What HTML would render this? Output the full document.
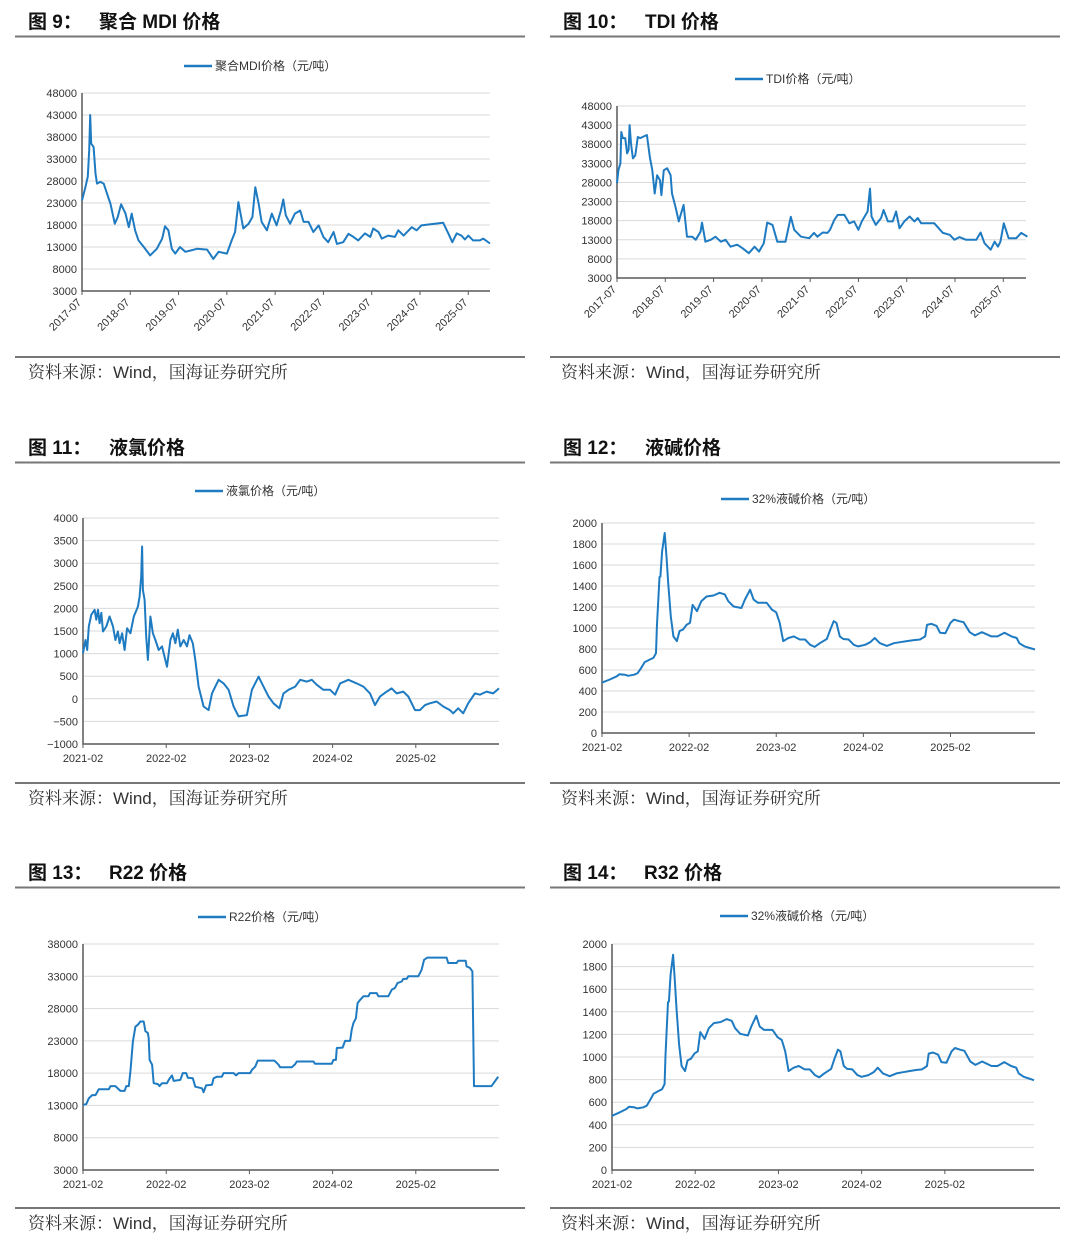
<!DOCTYPE html>
<html><head><meta charset="utf-8">
<style>
html,body{margin:0;padding:0;background:#fff;}
svg{display:block;font-family:"Liberation Sans","Noto Sans CJK SC",sans-serif;}
.ttl{font-size:19px;font-weight:bold;fill:#111;}
.src{font-size:17px;fill:#333;font-family:"Liberation Sans","Noto Serif CJK SC",serif;}
.tick{font-size:11px;fill:#333;}
.leg{font-size:12px;fill:#333;}
</style></head>
<body>
<svg id="page" width="1080" height="1252" viewBox="0 0 1080 1252" xmlns="http://www.w3.org/2000/svg">
<g>
<text class="ttl" x="28" y="28">图 9：</text>
<text class="ttl" x="99" y="28">聚合 MDI 价格</text>
<line x1="15" y1="36.5" x2="525" y2="36.5" stroke="#777" stroke-width="2"/>
<line x1="15" y1="357" x2="525" y2="357" stroke="#777" stroke-width="2"/>
<text class="src" x="28" y="378">资料来源：Wind，国海证券研究所</text>
</g>
<g>
<text class="ttl" x="563" y="28">图 10：</text>
<text class="ttl" x="645" y="28">TDI 价格</text>
<line x1="550" y1="36.5" x2="1060" y2="36.5" stroke="#777" stroke-width="2"/>
<line x1="550" y1="357" x2="1060" y2="357" stroke="#777" stroke-width="2"/>
<text class="src" x="561" y="378">资料来源：Wind，国海证券研究所</text>
</g>
<g>
<text class="ttl" x="28" y="454">图 11：</text>
<text class="ttl" x="109" y="454">液氯价格</text>
<line x1="15" y1="462.5" x2="525" y2="462.5" stroke="#777" stroke-width="2"/>
<line x1="15" y1="783" x2="525" y2="783" stroke="#777" stroke-width="2"/>
<text class="src" x="28" y="804">资料来源：Wind，国海证券研究所</text>
</g>
<g>
<text class="ttl" x="563" y="454">图 12：</text>
<text class="ttl" x="645" y="454">液碱价格</text>
<line x1="550" y1="462.5" x2="1060" y2="462.5" stroke="#777" stroke-width="2"/>
<line x1="550" y1="783" x2="1060" y2="783" stroke="#777" stroke-width="2"/>
<text class="src" x="561" y="804">资料来源：Wind，国海证券研究所</text>
</g>
<g>
<text class="ttl" x="28" y="879">图 13：</text>
<text class="ttl" x="109" y="879">R22 价格</text>
<line x1="15" y1="887.5" x2="525" y2="887.5" stroke="#777" stroke-width="2"/>
<line x1="15" y1="1208" x2="525" y2="1208" stroke="#777" stroke-width="2"/>
<text class="src" x="28" y="1229">资料来源：Wind，国海证券研究所</text>
</g>
<g>
<text class="ttl" x="563" y="879">图 14：</text>
<text class="ttl" x="644" y="879">R32 价格</text>
<line x1="550" y1="887.5" x2="1060" y2="887.5" stroke="#777" stroke-width="2"/>
<line x1="550" y1="1208" x2="1060" y2="1208" stroke="#777" stroke-width="2"/>
<text class="src" x="561" y="1229">资料来源：Wind，国海证券研究所</text>
</g>
</svg>
<script>
// ---- Data (time = years since first x-axis label) ----
const mdiT=[0,.07,.12,.15,.17,.19,.24,.28,.31,.38,.45,.52,.59,.68,.74,.81,.90,.97,1.03,1.10,1.17,1.28,1.41,1.55,1.66,1.72,1.79,1.86,1.93,2.03,2.14,2.28,2.38,2.59,2.72,2.83,3.00,3.10,3.17,3.24,3.34,3.45,3.53,3.59,3.66,3.72,3.83,3.93,4.03,4.12,4.17,4.22,4.31,4.41,4.52,4.59,4.69,4.79,4.90,5.00,5.10,5.21,5.28,5.41,5.52,5.62,5.72,5.86,5.97,6.03,6.14,6.21,6.34,6.48,6.55,6.66,6.83,6.93,7.03,7.24,7.48,7.59,7.67,7.76,7.86,7.93,8.00,8.10,8.24,8.31,8.45];
const mdiV=[23600,26600,29000,35000,43000,36500,35700,29700,27400,27800,27400,25100,22800,18300,19800,22700,20600,17500,20600,16800,14500,13000,11100,12600,14900,17700,16800,12600,11500,13000,11900,12300,12600,12400,10300,11900,11500,14500,16400,23200,17200,18300,19800,26600,22800,18700,16800,20600,17900,21300,23800,20200,18300,20600,21300,18700,18700,16400,17900,15300,14100,16400,13700,14100,16000,15300,14500,16100,15300,17200,16400,14900,15600,15300,16800,15600,17500,16800,17900,18200,18500,16000,14100,16100,15600,14700,15600,14500,14500,14900,13800];
const tdiT=[0,.03,.07,.09,.12,.17,.21,.24,.26,.29,.33,.38,.43,.48,.62,.68,.73,.78,.83,.89,.92,.97,1.04,1.11,1.14,1.21,1.28,1.33,1.38,1.45,1.56,1.63,1.73,1.76,1.83,1.94,2.04,2.15,2.25,2.35,2.49,2.60,2.73,2.85,2.94,3.04,3.11,3.22,3.32,3.49,3.60,3.67,3.81,3.98,4.08,4.15,4.26,4.36,4.41,4.50,4.57,4.71,4.81,4.91,5.00,5.07,5.19,5.24,5.27,5.36,5.47,5.52,5.61,5.71,5.78,5.85,5.95,6.06,6.16,6.23,6.30,6.57,6.75,6.89,6.99,7.09,7.23,7.44,7.53,7.61,7.74,7.82,7.89,7.94,8.01,8.11,8.27,8.37,8.50];
const tdiV=[27800,31200,33000,41200,39600,39600,35600,36500,43000,38200,34300,35100,39900,39600,40400,34700,31200,25100,29900,28600,24700,31200,31700,29900,25100,21700,17800,20000,22100,13800,13800,13000,15100,17500,12500,13000,13800,12500,13000,11200,11700,10800,9500,11200,9900,12100,17500,16900,12500,12500,19000,15600,13800,13400,14800,13800,14900,14800,15600,18200,19500,19500,17300,17800,15600,17800,20400,26400,19100,16900,18700,20800,17800,17800,20400,16000,17800,19100,17800,18700,17300,17300,14800,14300,13000,13700,13000,13000,14900,12100,10400,12500,11200,12500,17300,13400,13400,14800,13800];
const clT=[0,.03,.05,.07,.10,.14,.16,.18,.20,.22,.24,.28,.32,.36,.39,.42,.44,.47,.50,.53,.57,.61,.66,.68,.70,.71,.72,.74,.76,.78,.81,.84,.87,.91,.95,1.01,1.05,1.08,1.11,1.14,1.17,1.21,1.25,1.28,1.32,1.35,1.39,1.45,1.51,1.55,1.63,1.69,1.75,1.81,1.87,1.97,2.03,2.11,2.17,2.23,2.29,2.36,2.41,2.47,2.55,2.61,2.69,2.75,2.81,2.89,2.97,3.03,3.09,3.19,3.29,3.37,3.45,3.51,3.57,3.65,3.71,3.77,3.85,3.91,3.99,4.05,4.11,4.17,4.25,4.33,4.41,4.45,4.51,4.57,4.63,4.71,4.77,4.85,4.93,5.00];
const clV=[1010,1300,1080,1600,1860,1970,1750,1970,1670,1900,1490,1600,1820,1600,1300,1490,1230,1450,1080,1560,1450,1820,2040,2260,2710,3370,2410,2190,1380,860,1820,1450,1300,1080,1160,710,1300,1450,1230,1530,1160,1300,1160,1410,1230,860,270,-170,-250,120,420,340,200,-170,-390,-360,200,490,270,50,-100,-210,120,200,270,420,380,420,310,200,200,90,340,420,340,270,120,-140,50,160,230,120,160,50,-250,-250,-140,-100,-60,-170,-250,-320,-210,-320,-100,120,90,160,120,230];
const naohT=[0,.09,.17,.20,.26,.30,.37,.41,.45,.49,.55,.59,.62,.63,.66,.67,.69,.72,.74,.76,.79,.82,.86,.89,.93,.97,1.01,1.04,1.09,1.14,1.20,1.28,1.35,1.41,1.45,1.51,1.60,1.64,1.70,1.74,1.79,1.89,1.95,2.00,2.04,2.08,2.14,2.20,2.27,2.33,2.39,2.44,2.50,2.58,2.62,2.66,2.69,2.73,2.77,2.83,2.89,2.94,3.02,3.08,3.13,3.19,3.27,3.35,3.42,3.50,3.58,3.65,3.71,3.73,3.78,3.84,3.88,3.94,4.00,4.04,4.10,4.15,4.22,4.28,4.36,4.47,4.54,4.62,4.70,4.76,4.79,4.85,4.97];
const naohV=[480,510,540,560,555,545,555,570,620,675,700,715,760,1015,1485,1490,1730,1905,1680,1430,1110,920,875,970,985,1030,1050,1220,1160,1255,1300,1310,1335,1320,1255,1205,1190,1270,1365,1270,1240,1240,1175,1150,1050,875,905,920,890,890,840,820,855,895,985,1065,1050,920,895,890,840,825,840,865,905,855,830,855,865,875,885,890,920,1030,1040,1020,955,950,1050,1080,1065,1055,960,930,960,920,920,955,920,905,855,825,795,765];
const r22T=[0,.04,.07,.11,.15,.19,.31,.33,.39,.45,.50,.52,.55,.57,.60,.63,.66,.69,.73,.75,.78,.79,.80,.83,.85,.90,.92,.95,1.01,1.03,1.07,1.09,1.17,1.20,1.24,1.26,1.32,1.35,1.43,1.45,1.48,1.55,1.57,1.61,1.67,1.69,1.81,1.84,1.87,2.01,2.03,2.07,2.10,2.30,2.35,2.37,2.51,2.55,2.57,2.77,2.79,2.99,3.01,3.04,3.05,3.12,3.15,3.21,3.23,3.25,3.28,3.30,3.33,3.37,3.43,3.45,3.53,3.55,3.67,3.71,3.75,3.78,3.83,3.85,3.89,3.91,4.03,4.07,4.10,4.14,4.37,4.39,4.49,4.51,4.60,4.61,4.65,4.68,4.70,4.91,4.95,4.99];
const r22V=[13100,13200,14100,14600,14600,15500,15500,16000,16000,15250,15250,16000,16000,18250,22900,25200,25500,26000,26000,24500,24200,23400,20050,19300,16450,16300,16000,16450,16450,16950,17650,16800,16950,18000,18000,17300,17200,15900,15650,15050,16100,16200,17200,17450,17450,18000,18000,17650,18000,18000,18500,19000,19950,19950,19300,18900,18900,19400,19800,19800,19450,19450,20050,20050,21900,21950,23000,23000,24700,25750,26500,28850,29350,29900,29900,30400,30400,29900,29900,30900,31200,31950,32200,32600,32600,33000,33000,34000,35550,35900,35900,35050,35050,35400,35400,34550,34300,33750,16000,16000,16700,17450];
const labels1=['2017-07','2018-07','2019-07','2020-07','2021-07','2022-07','2023-07','2024-07','2025-07'];
const labels2=['2021-02','2022-02','2023-02','2024-02','2025-02'];

const NS='http://www.w3.org/2000/svg';
const page=document.getElementById('page');
function mk(tag,attrs,parent){const e=document.createElementNS(NS,tag);for(const k in attrs)e.setAttribute(k,attrs[k]);parent.appendChild(e);return e;}

function chart(id,c,T,V){
  const g=mk('g',{},page);
  
  
  const xs=t=>c.x0+(t/c.span)*(c.x1-c.x0);
  const ys=v=>c.y1-(v-c.ymin)/(c.ymax-c.ymin)*(c.y1-c.y0);
  for(let v=c.ymin;v<=c.ymax+1e-6;v+=c.ystep){
    const y=ys(v);
    if(v>c.ymin){const gl=mk('line',{x1:c.x0,x2:c.x1,y1:y,y2:y,stroke:'#d9d9d9','stroke-width':1},g);
      
      }
    const tx=mk('text',{x:c.x0-5,y:y+4,'text-anchor':'end',class:'tick'},g);
    
    
    tx.textContent=(v<0?'\u2212':'')+Math.abs(v);
  }
  c.labels.forEach((lab,i)=>{
    const x=xs(i*c.lstep);
    mk('line',{x1:x,x2:x,y1:c.y1,y2:c.y1+4,stroke:'#595959','stroke-width':1},g);
    const tx=mk('text',c.rot?{x:x,y:c.y1+12,'text-anchor':'end',class:'tick',transform:`rotate(-45 ${x} ${c.y1+12})`}:{x:x,y:c.y1+18,'text-anchor':'middle',class:'tick'},g);
    
    
    tx.textContent=lab;
  });
  const ax=mk('path',{d:`M${c.x0},${c.y0}V${c.y1}H${c.x1}`,fill:'none',stroke:'#595959','stroke-width':1.5},g);
  
  
  const n=Math.min(T.length,V.length);
  let d='';for(let i=0;i<n;i++)d+=(i?'L':'M')+xs(T[i]).toFixed(1)+','+ys(V[i]).toFixed(1);
  const p=mk('path',{d:d,fill:'none',stroke:'#1f7bc1','stroke-width':2,'stroke-linejoin':'round'},g);
  
  
  const lg=mk('g',{},g);
  
  
  mk('line',{x1:c.lx,x2:c.lx+28,y1:c.ly,y2:c.ly,stroke:'#1f7bc1','stroke-width':2.5},lg);
  const lt=mk('text',{x:c.lx+31,y:c.ly+4,class:'leg'},lg);
  lt.textContent=c.legend;
}
chart('mdi',{x0:82,x1:490,y0:93,y1:291,ymin:3000,ymax:48000,ystep:5000,span:8.45,lstep:1,labels:labels1,rot:true,lx:184,ly:66,legend:'聚合MDI价格（元/吨）'},mdiT,mdiV);
chart('tdi',{x0:617,x1:1026,y0:106,y1:278,ymin:3000,ymax:48000,ystep:5000,span:8.47,lstep:1,labels:labels1,rot:true,lx:735,ly:79,legend:'TDI价格（元/吨）'},tdiT,tdiV);
chart('liquid-chlorine',{x0:83,x1:499,y0:518,y1:744,ymin:-1000,ymax:4000,ystep:500,span:5.0,lstep:1,labels:labels2,rot:false,lx:195,ly:491,legend:'液氯价格（元/吨）'},clT,clV);
chart('caustic-soda',{x0:602,x1:1035,y0:523,y1:733,ymin:0,ymax:2000,ystep:200,span:4.97,lstep:1,labels:labels2,rot:false,lx:721,ly:499,legend:'32%液碱价格（元/吨）'},naohT,naohV);
chart('r22',{x0:83,x1:499,y0:944,y1:1170,ymin:3000,ymax:38000,ystep:5000,span:5.0,lstep:1,labels:labels2,rot:false,lx:198,ly:917,legend:'R22价格（元/吨）'},r22T,r22V);
chart('r32',{x0:612,x1:1034,y0:944,y1:1170,ymin:0,ymax:2000,ystep:200,span:4.97,lstep:0.98,labels:labels2,rot:false,lx:720,ly:916,legend:'32%液碱价格（元/吨）'},naohT,naohV);
</script>
</body></html>
